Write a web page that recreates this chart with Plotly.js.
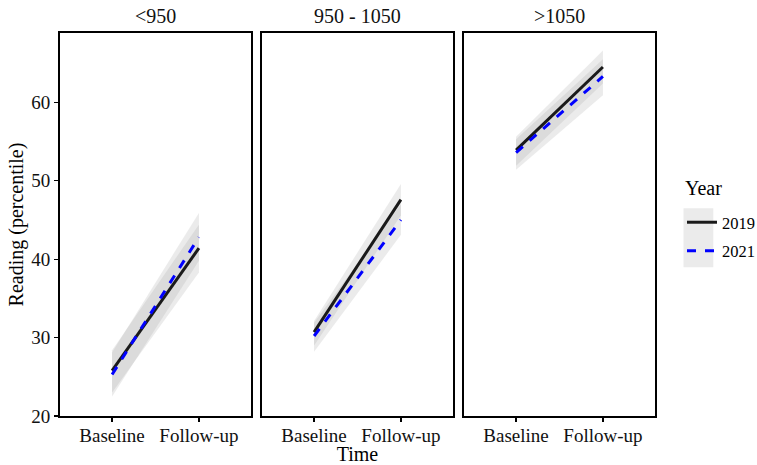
<!DOCTYPE html>
<html>
<head>
<meta charset="utf-8">
<script src="https://cdn.plot.ly/plotly-3.0.1.min.js"></script>
<style>html,body{margin:0;padding:0;background:#fff;}#chart{width:757px;height:465px;}</style>
</head>
<body>
<div id="chart"></div>
<script>
// ---- data ----
const groups = ['<950', '950 - 1050', '>1050'];
const times = ['Baseline', 'Follow-up'];
const years = ['2019', '2021'];

const base2019   = [25.8, 30.7, 53.9];
const follow2019 = [41.4, 47.6, 64.5];
const base2021   = [25.3, 30.2, 53.6];
const follow2021 = [42.8, 45.0, 63.3];

const baseLo2019   = [23.0, 29.0, 51.9];
const baseHi2019   = [28.4, 32.1, 55.6];
const followLo2019 = [38.3, 45.6, 62.4];
const followHi2019 = [44.4, 49.6, 66.6];

const baseLo2021   = [22.5, 28.2, 51.4];
const baseHi2021   = [28.1, 31.9, 55.3];
const followLo2021 = [39.8, 43.1, 60.9];
const followHi2021 = [45.9, 47.0, 65.5];

// ---- build ----
const FONT = "'Liberation Serif'";
const traces = [];
const axSuffix = ['', '2', '3'];

groups.forEach((g, i) => {
  const xa = 'x' + axSuffix[i], ya = 'y' + axSuffix[i];
  const ribbons = [
    [baseLo2019[i], followLo2019[i], followHi2019[i], baseHi2019[i]],
    [baseLo2021[i], followLo2021[i], followHi2021[i], baseHi2021[i]]
  ];
  ribbons.forEach(r => {
    traces.push({
      type: 'scatter', mode: 'lines', xaxis: xa, yaxis: ya,
      x: [times[0], times[1], times[1], times[0]], y: r,
      fill: 'toself', fillcolor: 'rgba(153,153,153,0.2)',
      line: {width: 0, color: 'rgba(0,0,0,0)'},
      showlegend: false, hoverinfo: 'skip'
    });
  });
  traces.push({
    type: 'scatter', mode: 'lines', xaxis: xa, yaxis: ya,
    x: times, y: [base2019[i], follow2019[i]],
    name: years[0], legendgroup: 'a', showlegend: i === 0,
    line: {color: '#1a1a1a', width: 3}
  });
  traces.push({
    type: 'scatter', mode: 'lines', xaxis: xa, yaxis: ya,
    x: times, y: [base2021[i], follow2021[i]],
    name: years[1], legendgroup: 'b', showlegend: i === 0,
    line: {color: '#0000ff', width: 3, dash: 'dash'}
  });
});

const L = 60, R = 102, T = 33, B = 49;
const W = 757 - L - R, H = 465 - T - B;
const pw = 191, gap = (W - 3 * pw) / 2;
const dom = i => [(i * (pw + gap)) / W, (i * (pw + gap) + pw) / W];

const xBase = {
  type: 'category', range: [-0.6, 1.6], showgrid: false, zeroline: false,
  showline: true, mirror: true, linecolor: 'black', linewidth: 2,
  ticks: 'outside', ticklen: 4, tickwidth: 1.3, tickcolor: 'black',
  ticklabelstandoff: -3,
  tickfont: {family: FONT, size: 19, color: '#111'}, fixedrange: true,
  automargin: false
};
const yBase = {
  range: [20, 68.84], showgrid: false, zeroline: false,
  showline: true, mirror: true, linecolor: 'black', linewidth: 2,
  tickvals: [20, 30, 40, 50, 60], fixedrange: true, automargin: false
};

const layout = {
  width: 757, height: 465,
  margin: {l: L, r: R, t: T, b: B, autoexpand: false},
  paper_bgcolor: 'white', plot_bgcolor: 'white',
  font: {family: FONT, color: 'black'},
  showlegend: true,
  legend: {
    x: (682 - L) / W, xanchor: 'left', y: (416 - 205) / H, yanchor: 'top',
    bgcolor: 'rgba(0,0,0,0)', tracegroupgap: 4,
    font: {family: FONT, size: 16.5, color: 'black'}
  },
  annotations: [{
    text: 'Year', xref: 'paper', yref: 'paper',
    x: (683 - L) / W, xanchor: 'left', y: (416 - 188) / H, yanchor: 'middle',
    showarrow: false, font: {family: FONT, size: 20, color: 'black'}
  }],
  shapes: [{
    type: 'rect', xref: 'paper', yref: 'paper', layer: 'below',
    x0: (683.5 - L) / W, x1: (713.3 - L) / W,
    y0: (416 - 267.3) / H, y1: (416 - 208.3) / H,
    fillcolor: '#ebebeb', line: {width: 0}
  }]
};

groups.forEach((g, i) => {
  const s = axSuffix[i];
  layout['xaxis' + s] = Object.assign({}, xBase, {domain: dom(i), anchor: 'y' + s});
  const y = Object.assign({}, yBase, {anchor: 'x' + s});
  if (i === 0) {
    y.ticks = 'outside'; y.ticklen = 4; y.tickwidth = 1.3; y.tickcolor = 'black';
    y.tickfont = {family: FONT, size: 19, color: '#111'};
    y.title = {text: 'Reading (percentile)', font: {family: FONT, size: 20, color: 'black'}, standoff: 2};
  } else {
    y.matches = 'y'; y.showticklabels = false; y.ticks = '';
  }
  layout['yaxis' + s] = y;
  layout.annotations.push({
    text: g, xref: 'x' + s + ' domain', yref: 'paper', x: 0.5, y: 1,
    yanchor: 'bottom', yshift: 4, showarrow: false,
    font: {family: FONT, size: 20, color: '#111'}
  });
});
layout.xaxis2.title = {text: 'Time', font: {family: FONT, size: 20, color: 'black'}, standoff: 2};

Plotly.newPlot('chart', traces, layout, {displayModeBar: false, staticPlot: true});
</script>
</body>
</html>
